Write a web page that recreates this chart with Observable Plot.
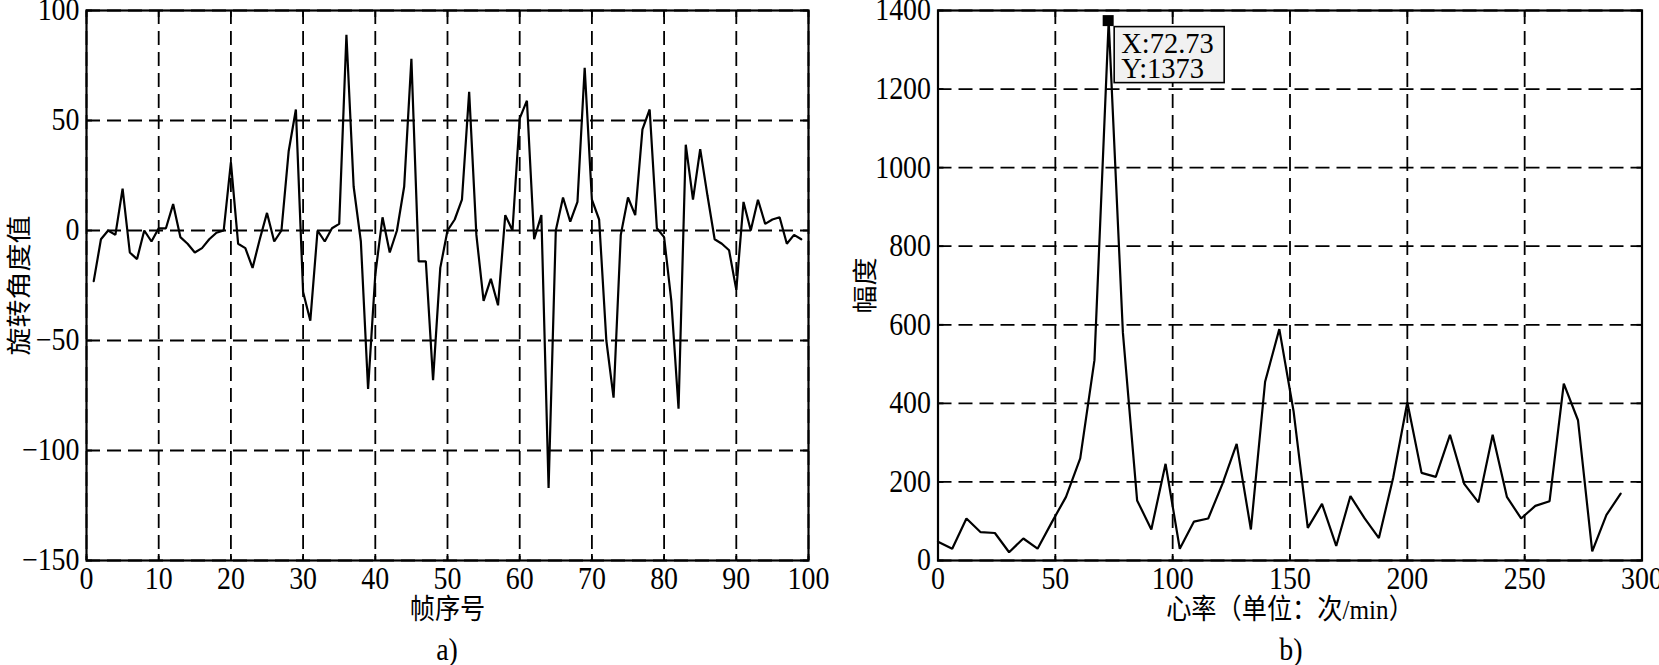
<!DOCTYPE html>
<html>
<head>
<meta charset="utf-8">
<script src="https://cdn.jsdelivr.net/npm/d3@7"></script>
<script src="https://cdn.jsdelivr.net/npm/@observablehq/plot@0.6"></script>
<style>
  html, body { margin: 0; padding: 0; background: #fff; }
  #wrap { position: relative; width: 1659px; height: 665px; overflow: hidden; background: #fff; }
  #wrap svg, #wrap svg text { font-family: "Liberation Serif", "Noto Sans CJK SC", serif !important; }
  .panel { position: absolute; top: 0; }
  .cap { position: absolute; top: 632px; width: 100px; line-height: 36px; text-align: center;
         font-family: "Liberation Serif", "Times New Roman", serif; font-size: 31px; color: #000;
         transform: scaleX(0.9); }
</style>
</head>
<body>
<div id="wrap">
  <div id="pa" class="panel" style="left:0px"></div>
  <div id="pb" class="panel" style="left:830px"></div>
  <div class="cap" style="left:397px">a)</div>
  <div class="cap" style="left:1241px">b)</div>
</div>
<script>
// ---------- data ----------
const frameNo = [1,2,3,4,5,6,7,8,9,10,11,12,13,14,15,16,17,18,19,20,
  21,22,23,24,25,26,27,28,29,30,31,32,33,34,35,36,37,38,39,40,
  41,42,43,44,45,46,47,48,49,50,51,52,53,54,55,56,57,58,59,60,
  61,62,63,64,65,66,67,68,69,70,71,72,73,74,75,76,77,78,79,80,
  81,82,83,84,85,86,87,88,89,90,91,92,93,94,95,96,97,98,99];
const rotationAngle = [-23,-4,0,-2,19,-10,-13,0,-5,1,1,12,-3,-6,-10,-8,-4,-1,0,31,
  -6,-8,-17,-4,8,-5,0,36,55,-28,-41,0,-5,1,3,89,20,-5,-72,-20,
  6,-10,0,20,78,-14,-14,-68,-17,0,5,14,63,-2,-32,-22,-34,7,0,51,
  59,-4,7,-117,0,15,4,13,74,14,5,-50,-76,-2,15,7,46,55,1,-3,
  -32,-81,39,14,37,16,-4,-6,-9,-27,13,0,14,3,5,6,-6,-2,-4];

const heartRate = [0,6.06,12.12,18.18,24.24,30.30,36.36,42.42,48.48,54.55,
  60.61,66.67,72.73,78.79,84.85,90.91,96.97,103.03,109.09,115.15,
  121.21,127.27,133.33,139.39,145.45,151.52,157.58,163.64,169.70,175.76,
  181.82,187.88,193.94,200.00,206.06,212.12,218.18,224.24,230.30,236.36,
  242.42,248.48,254.55,260.61,266.67,272.73,278.79,284.85,290.91];
const amplitude = [48,30,107,72,70,21,56,30,97,162,
  260,510,1373,580,153,79,246,30,99,107,
  195,297,79,455,589,380,83,144,37,164,
  107,57,210,403,223,213,320,195,148,320,
  162,107,139,151,450,357,23,116,170];

const xTicksA = [0,10,20,30,40,50,60,70,80,90,100];
const yTicksA = [-150,-100,-50,0,50,100];
const xTicksB = [0,50,100,150,200,250,300];
const yTicksB = [0,200,400,600,800,1000,1200,1400];

const peakX = 72.73, peakY = 1373;
const tipLines = ["X:72.73", "Y:1373"];

const xLabelA = "帧序号", yLabelA = "旋转角度值";
const xLabelB = "心率（单位：次/min）", yLabelB = "幅度";

// ---------- drawing ----------
const SERIF = '"Liberation Serif", "Noto Sans CJK SC", serif';
const fmt = d => (d < 0 ? "\u2212" + (-d) : String(d));

const seriesA = frameNo.map((x, i) => ({x, y: rotationAngle[i]}));
const seriesB = heartRate.map((x, i) => ({x, y: amplitude[i]}));

function dataTip(index, scales) {
  const px = scales.x(peakX), py = scales.y(peakY);
  const g = d3.create("svg:g");
  g.append("rect").attr("x", px - 5.5).attr("y", py - 5.5).attr("width", 11).attr("height", 11).attr("fill", "#000");
  g.append("rect").attr("x", px + 6).attr("y", py + 6).attr("width", 110).attr("height", 56)
    .attr("fill", "#f1f1f1").attr("stroke", "#000").attr("stroke-width", 1.6);
  tipLines.forEach((t, i) => {
    g.append("text").attr("transform", `translate(${px + 13},${py + 32 + i * 25.5}) scale(0.95,1)`)
      .attr("text-anchor", "start")
      .attr("font-family", SERIF).attr("font-size", 30).attr("fill", "#000").text(t);
  });
  return g.node();
}

function panel({data, xDomain, yDomain, xTicks, yTicks, width, ml, mr, xLabel, yLabel, yLabelDx, extra = []}) {
  const grid = {stroke: "#000", strokeOpacity: 1, strokeWidth: 1.8, strokeDasharray: "14,7"};
  const tick = {stroke: "#000", strokeWidth: 1.8, tickSize: -6, fill: "none", label: null};
  const txt = {label: null, fontSize: 31, fontFamily: SERIF, fill: "#000", tickFormat: fmt};
  const svg = Plot.plot({
    width, height: 630,
    marginLeft: ml, marginRight: mr, marginTop: 10, marginBottom: 70,
    style: {background: "#fff", color: "#000", fontFamily: SERIF, fontSize: "31px", overflow: "visible"},
    x: {domain: xDomain, label: null},
    y: {domain: yDomain, label: null},
    marks: [
      Plot.gridX(xTicks, grid),
      Plot.gridY(yTicks, grid),
      Plot.line(data, {x: "x", y: "y", stroke: "#000", strokeWidth: 2.2, strokeLinejoin: "miter"}),
      Plot.frame({stroke: "#000", strokeWidth: 2.2}),
      Plot.axisX(xTicks, {anchor: "bottom", tickSize: 0, tickPadding: 6, ...txt}),
      Plot.axisY(yTicks, {anchor: "left", tickSize: 0, tickPadding: 7, ...txt}),
      Plot.axisX(xTicks, {anchor: "bottom", ...tick}),
      Plot.axisX(xTicks, {anchor: "top", ...tick}),
      Plot.axisY(yTicks, {anchor: "left", ...tick}),
      Plot.axisY(yTicks, {anchor: "right", ...tick}),
      Plot.text([xLabel], {frameAnchor: "bottom", dy: 50, textAnchor: "middle", lineAnchor: "middle",
        fontFamily: SERIF, fontSize: 28, fill: "#000"}),
      Plot.text([yLabel], {frameAnchor: "left", dx: yLabelDx, rotate: -90, textAnchor: "middle", lineAnchor: "middle",
        fontFamily: SERIF, fontSize: 28, fill: "#000"}),
      ...extra
    ]
  });
  // tall, narrow lettering as in the reference
  svg.querySelectorAll("text").forEach(t => {
    const tr = t.getAttribute("transform");
    if (!tr || tr.includes("scale")) return;
    t.setAttribute("transform", tr + (tr.includes("rotate") ? " scale(1,0.9)" : " scale(0.9,1)"));
  });
  return svg;
}

document.getElementById("pa").appendChild(panel({
  data: seriesA, xDomain: [0, 100], yDomain: [-150, 100],
  xTicks: xTicksA, yTicks: yTicksA, width: 830, ml: 86, mr: 22,
  xLabel: xLabelA, yLabel: yLabelA, yLabelDx: -67
}));

document.getElementById("pb").appendChild(panel({
  data: seriesB, xDomain: [0, 300], yDomain: [0, 1400],
  xTicks: xTicksB, yTicks: yTicksB, width: 829, ml: 107.5, mr: 17.5,
  xLabel: xLabelB, yLabel: yLabelB, yLabelDx: -72, extra: [dataTip]
}));
</script>
</body>
</html>
